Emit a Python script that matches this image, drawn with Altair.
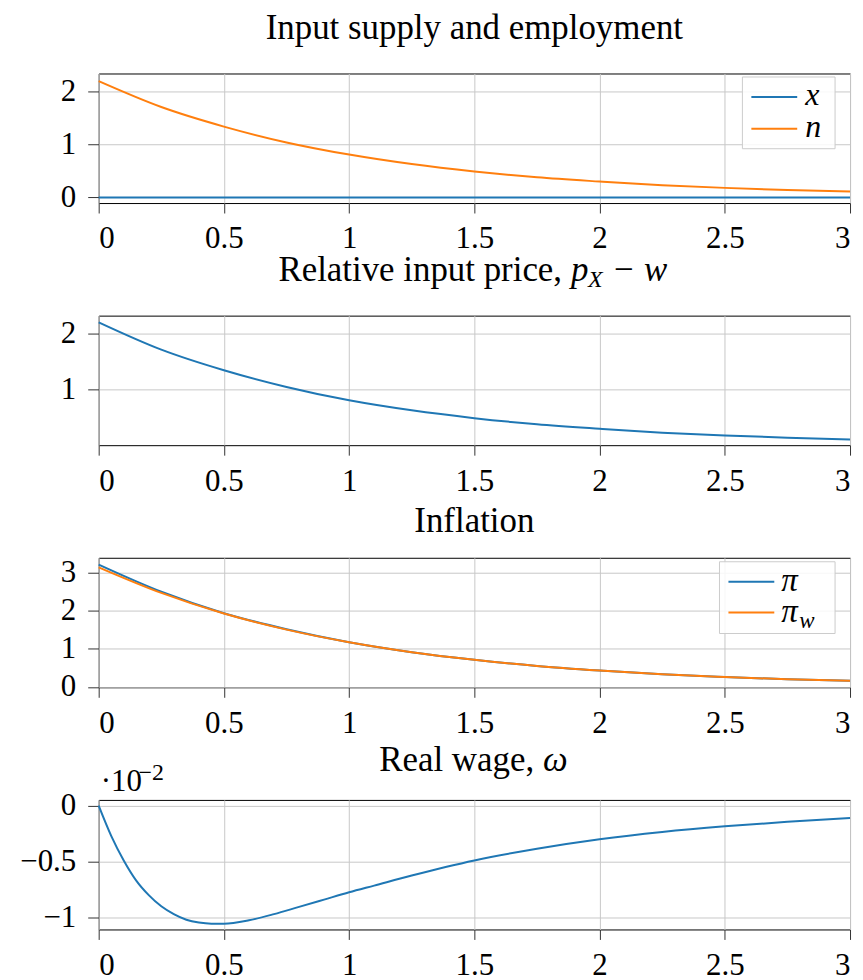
import altair as alt
import pandas as pd

# ---------------- data ----------------
t_main = [0.0, 0.25, 0.5, 0.75, 1.0, 1.25, 1.5, 1.75, 2.0, 2.25, 2.5, 2.75, 3.0]
x_supply = [0.0, 0.0, 0.0, 0.0, 0.0, 0.0, 0.0, 0.0, 0.0, 0.0, 0.0, 0.0, 0.0]
n_employment = [2.20, 1.71, 1.34, 1.04, 0.81, 0.63, 0.49, 0.38, 0.30, 0.23, 0.18, 0.14, 0.11]
rel_price = [2.21, 1.72, 1.35, 1.05, 0.81, 0.63, 0.49, 0.38, 0.30, 0.23, 0.18, 0.14, 0.107]
pi_price = [3.20, 2.49, 1.93, 1.51, 1.17, 0.91, 0.71, 0.55, 0.43, 0.33, 0.26, 0.20, 0.16]
pi_wage = [3.13, 2.46, 1.92, 1.50, 1.17, 0.91, 0.71, 0.55, 0.43, 0.33, 0.26, 0.20, 0.16]
t_wage = [0.0, 0.05, 0.1, 0.15, 0.2, 0.25, 0.3, 0.35, 0.4, 0.45, 0.5, 0.6, 0.7, 0.8,
          0.9, 1.0, 1.1, 1.25, 1.5, 1.75, 2.0, 2.25, 2.5, 2.75, 3.0]
real_wage_e2 = [0.0, -0.27, -0.49, -0.67, -0.80, -0.90, -0.97, -1.02, -1.045, -1.055,
                -1.055, -1.025, -0.97, -0.905, -0.84, -0.775, -0.715, -0.625, -0.49,
                -0.385, -0.30, -0.235, -0.185, -0.145, -0.11]

x_ticks = [0, 0.5, 1, 1.5, 2, 2.5, 3]

BLUE = "#1f77b4"
ORANGE = "#ff7f0e"
FONT = "Liberation Serif"
W, H = 754, 130
TS = 35  # title font size

one = pd.DataFrame({"k": [0]})


def xenc(field):
    return alt.X(field, type="quantitative",
                 scale=alt.Scale(domain=[0, 3], nice=False, zero=False),
                 axis=alt.Axis(values=x_ticks, format="~g", title=None))


def yenc(field, dom, vals):
    return alt.Y(field, type="quantitative",
                 scale=alt.Scale(domain=dom, nice=False, zero=False),
                 axis=alt.Axis(values=vals, format="~g", title=None))


def line(df, fieldx, fieldy, color, dom, vals):
    return alt.Chart(df).mark_line(color=color, strokeWidth=2, interpolate="monotone").encode(
        x=xenc(fieldx), y=yenc(fieldy, dom, vals))


def txt(s, x, y, size=TS, italic=False, align="left"):
    kw = dict(font=FONT, fontSize=size, align=align, baseline="alphabetic", color="black")
    if italic:
        kw["fontStyle"] = "italic"
    return alt.Chart(one).mark_text(**kw).encode(
        x=alt.value(x), y=alt.value(y), text=alt.value(s))


def legend_box(x0, x1, y0, y1):
    return alt.Chart(one).mark_rect(fill="white", fillOpacity=0.85, stroke="#cccccc",
                                    strokeWidth=1).encode(
        x=alt.value(x0), x2=alt.value(x1), y=alt.value(y0), y2=alt.value(y1))


def legend_line(x0, x1, y, color):
    return alt.Chart(one).mark_rule(color=color, strokeWidth=2).encode(
        x=alt.value(x0), x2=alt.value(x1), y=alt.value(y))


# ---------------- panel 1 ----------------
df1 = pd.DataFrame({"t": t_main, "x": x_supply, "n": n_employment})
dom1 = [-0.107, 2.345]
p1 = alt.layer(
    line(df1, "t", "x", BLUE, dom1, [0, 1, 2]),
    line(df1, "t", "n", ORANGE, dom1, [0, 1, 2]),
    legend_box(646, 739, 3.5, 75.5),
    legend_line(655, 701, 23.5, BLUE),
    legend_line(655, 701, 55.5, ORANGE),
    txt("x", 709, 32, size=32, italic=True),
    txt("n", 709, 64, size=32, italic=True),
    txt("Input supply and employment", 377, -34.5, align="center"),
).properties(width=W, height=H)

# ---------------- panel 2 ----------------
df2 = pd.DataFrame({"t": t_main, "p": rel_price})
p2 = alt.layer(
    line(df2, "t", "p", BLUE, [0.005, 2.33], [1, 2]),
    txt("Relative input price,", 465, -35, align="right"),
    txt("p", 474, -35, italic=True),
    txt("X", 491, -29, size=24, italic=True),
    txt("\u2212 w", 515, -35, italic=True),
).properties(width=W, height=H)

# ---------------- panel 3 ----------------
df3 = pd.DataFrame({"t": t_main, "pi": pi_price, "piw": pi_wage})
dom3 = [-0.01, 3.38]
p3 = alt.layer(
    line(df3, "t", "pi", BLUE, dom3, [0, 1, 2, 3]),
    line(df3, "t", "piw", ORANGE, dom3, [0, 1, 2, 3]),
    legend_box(623, 739, 4, 76),
    legend_line(632, 678, 24, BLUE),
    legend_line(632, 678, 55, ORANGE),
    txt("\u03c0", 685, 33, size=33, italic=True),
    txt("\u03c0", 685, 64, size=33, italic=True),
    txt("w", 703, 70, size=23, italic=True),
    txt("Inflation", 377, -26, align="center"),
).properties(width=W, height=H)

# ---------------- panel 4 ----------------
df4 = pd.DataFrame({"t": t_wage, "w": real_wage_e2})
p4 = alt.layer(
    line(df4, "t", "w", BLUE, [-1.107, 0.051], [0, -0.5, -1]),
    txt("Real wage,", 437, -29, align="right"),
    txt("\u03c9", 446, -29, italic=True),
    txt("\u00b710", 2, -9, size=31),
    txt("\u22122", 40, -20, size=24),
).properties(width=W, height=H)

chart = alt.vconcat(p1, p2, p3, p4, spacing=113, bounds="flush").properties(
    padding={"left": 11, "top": 1, "right": 0, "bottom": 0}
).configure_view(
    stroke="black", strokeWidth=1
).configure_axis(
    grid=True, gridColor="#c8c8c8", gridWidth=1, domain=False,
    tickColor="#333333", tickWidth=1,
    labelFont=FONT, labelFontSize=31, labelColor="black",
).configure_axisX(
    tickSize=10, labelPadding=35, labelBaseline="alphabetic"
).configure_axisY(
    tickSize=11, labelPadding=12
)

chart.save("out.html", embed_options={"renderer": "svg", "actions": False})
